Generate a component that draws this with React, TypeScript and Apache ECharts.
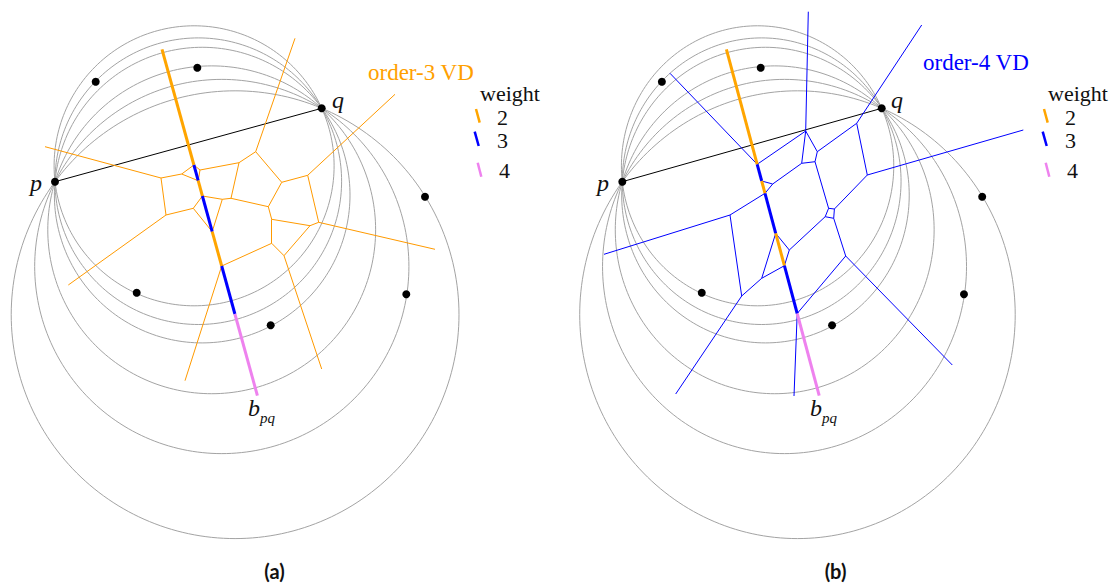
import React, { useEffect, useRef } from "react";
import * as echarts from "echarts";

// ---------- shared point set (panel (a) pixel frame; panel (b) is the same set, x-compressed) ----------
const siteP: number[] = [55, 181.7];
const siteQ: number[] = [321.7, 108.3];
const otherSites: number[][] = [
  [95.7, 81.7],
  [197.3, 67.7],
  [425, 196.7],
  [406.3, 294.3],
  [136.7, 292.7],
  [270.7, 325.3],
];
// centres of the circles through p and q (radius = distance to p)
const circleCenters: number[][] = [
  [194.1, 165.8],
  [198.3, 181.2],
  [202.2, 195.1],
  [211.7, 229.8],
  [221.8, 266.5],
  [235.1, 314.7],
];

// ---------- bisector b_pq, coloured by weight ----------
const weightColors: Record<number, string> = { 2: "#FFA500", 3: "#0000FF", 4: "#EE82EE" };
const bisectorA: number[][] = [
  [162.0, 49.3], [193.9, 165], [198.2, 180.7], [202.4, 196],
  [212.2, 231.7], [221.7, 266], [234.9, 314], [257.4, 395.7],
];
const bisectorAWeights: number[] = [2, 3, 2, 3, 2, 3, 4];
const bisectorB: number[][] = [
  [726.4, 49.3], [757.2, 164.3], [761.7, 181], [765.0, 193.3],
  [775.7, 233.3], [784.4, 265.7], [797.2, 313.5], [819.2, 395.7],
];
const bisectorBWeights: number[] = [2, 3, 2, 3, 2, 3, 4];

// ---------- order-3 Voronoi diagram (panel a) ----------
const vdAVertices: number[][] = [
  [255.7, 151.7], [239, 162.7], [200, 170], [181.7, 174], [161, 178],
  [193.9, 165], [198.2, 180.7], [281.7, 182.3], [307.7, 175.3], [231, 198.3],
  [222.3, 199.3], [202.4, 196], [193.3, 208.3], [166, 215], [212.2, 231.7],
  [268.3, 206.7], [271.7, 219.3], [318.7, 222.3], [310, 225.7], [271.7, 243.3],
  [284, 255.7], [221.7, 266], [295, 38.3], [395, 94.3], [45, 146.7],
  [68.3, 285], [435, 249.3], [321.7, 369], [185, 380.7],
];
const vdAEdges: number[][] = [
  [0, 1], [0, 7], [0, 22], [1, 2], [1, 9], [2, 5], [2, 6], [3, 4], [3, 5], [3, 6],
  [4, 13], [4, 24], [7, 8], [7, 15], [8, 23], [8, 17], [9, 10], [9, 15], [10, 11], [10, 14],
  [11, 12], [12, 13], [12, 14], [13, 25], [15, 16], [16, 18], [16, 19], [17, 18], [17, 26],
  [18, 20], [19, 20], [19, 21], [20, 27], [21, 28],
];

// ---------- order-4 Voronoi diagram (panel b, its own pixel frame) ----------
const vdBVertices: number[][] = [
  [757.2, 164.3], [805.7, 131], [817.3, 151.7], [815, 161.7], [801.7, 163.3],
  [856.7, 123.3], [867.3, 175], [761.7, 181], [772.7, 184], [765.0, 193.3],
  [730, 215], [775.7, 233.3], [789.3, 250], [784.4, 265.7], [761.7, 278.3],
  [741.7, 296], [797.2, 313.5], [845.7, 256], [828.6, 208.3], [834.4, 209],
  [833.7, 218.3], [825.2, 216.7], [670, 73.3], [808.3, 11.7], [921.7, 25],
  [1023.3, 130], [604, 254.3], [675.7, 394], [794, 396], [952.3, 365],
];
const vdBEdges: number[][] = [
  [0, 1], [0, 22], [1, 23], [1, 2], [1, 4], [2, 3], [2, 5], [3, 4], [3, 18], [4, 8],
  [5, 24], [5, 6], [6, 25], [6, 19], [7, 8], [8, 9], [9, 10], [10, 26], [10, 15],
  [11, 12], [11, 14], [12, 13], [12, 21], [13, 14], [14, 15], [15, 27], [16, 17], [16, 28],
  [17, 20], [17, 29], [18, 19], [19, 20], [20, 21], [21, 18],
];

const legendWeights: number[] = [2, 3, 4];

const SERIF = "Liberation Serif";

function buildOption() {
  const circleData = circleCenters.map((c) => [c[0], c[1], Math.hypot(c[0] - siteP[0], c[1] - siteP[1])]);
  const circleSeries = (gi: number) => ({
    type: "custom",
    xAxisIndex: gi,
    yAxisIndex: gi,
    silent: true,
    z: 1,
    data: circleData,
    renderItem: (_params: any, api: any) => {
      const cx = api.value(0);
      const cy = api.value(1);
      const r = api.value(2);
      const pts: number[][] = [];
      for (let k = 0; k <= 240; k++) {
        const a = (k / 240) * Math.PI * 2;
        pts.push(api.coord([cx + r * Math.cos(a), cy + r * Math.sin(a)]));
      }
      return {
        type: "polyline",
        shape: { points: pts },
        style: { stroke: "#a3a3a3", lineWidth: 1, fill: "none" },
      };
    },
  });
  const edgeSeries = (verts: number[][], edges: number[][], color: string, gi: number, z: number) => ({
    type: "lines",
    coordinateSystem: "cartesian2d",
    xAxisIndex: gi,
    yAxisIndex: gi,
    silent: true,
    z,
    color: [color],
    lineStyle: { color, width: 1, opacity: 1, curveness: 0 },
    data: edges.map(([i, j]) => ({
      coords: [verts[i], verts[j]],
      lineStyle: { color, width: 1, opacity: 1 },
    })),
  });
  const bisectorSeries = (pts: number[][], weights: number[]) => ({
    type: "lines",
    coordinateSystem: "cartesian2d",
    xAxisIndex: 0,
    yAxisIndex: 0,
    silent: true,
    z: 5,
    lineStyle: { width: 3, opacity: 1, cap: "butt" },
    data: weights.map((w, i) => ({
      coords: [pts[i], pts[i + 1]],
      lineStyle: { color: weightColors[w], width: 3, opacity: 1 },
    })),
  });
  const chordSeries = (gi: number) => ({
    type: "lines",
    coordinateSystem: "cartesian2d",
    xAxisIndex: gi,
    yAxisIndex: gi,
    silent: true,
    z: 3,
    lineStyle: { color: "#000", width: 1, opacity: 1 },
    data: [{ coords: [siteP, siteQ] }],
  });
  const dotSeries = (gi: number) => ({
    type: "scatter",
    xAxisIndex: gi,
    yAxisIndex: gi,
    silent: true,
    z: 6,
    symbol: "circle",
    symbolSize: 8,
    itemStyle: { color: "#000", opacity: 1 },
    data: [siteP, siteQ, ...otherSites],
  });

  const mathText = (text: string, x: number, y: number, size: number, align = "left") => ({
    type: "text",
    x,
    y,
    silent: true,
    style: {
      text,
      fill: "#111",
      fontFamily: SERIF,
      fontStyle: "italic",
      fontSize: size,
      align,
      verticalAlign: "middle",
    },
  });
  const plainText = (text: string, x: number, y: number, color: string, size = 22) => ({
    type: "text",
    x,
    y,
    silent: true,
    style: { text, fill: color, fontFamily: SERIF, fontSize: size, align: "left", verticalAlign: "middle" },
  });
  const tickOffsets: number[][] = [
    [476, 109, 479.7, 122.7],
    [474.7, 131.7, 478.7, 146],
    [477.7, 162.7, 481.3, 176.7],
  ];
  const labelY: number[] = [117, 140, 170];
  const labelX: number[] = [497, 497, 499];
  const legend = (dx: number) => {
    const els: any[] = [plainText("weight", 480 + dx, 93, "#111", 22)];
    legendWeights.forEach((w, i) => {
      const t = tickOffsets[i];
      els.push({
        type: "line",
        silent: true,
        shape: { x1: t[0] + dx, y1: t[1], x2: t[2] + dx, y2: t[3] },
        style: { stroke: weightColors[w], lineWidth: 2.5 },
      });
      els.push(plainText(String(w), labelX[i] + dx, labelY[i], "#111", 22));
    });
    return els;
  };

  const graphic: any[] = [
    plainText("order-3 VD", 368, 72, "#FFA000", 23),
    plainText("order-4 VD", 923, 62, "#0000FF", 23),
    ...legend(0),
    ...legend(568),
    mathText("p", 42, 183, 24, "right"),
    mathText("q", 332, 100, 24),
    mathText("p", 609, 183, 24, "right"),
    mathText("q", 891, 100, 24),
    mathText("b", 248, 408, 24),
    mathText("pq", 260, 418, 15),
    mathText("b", 810, 408, 24),
    mathText("pq", 822, 418, 15),
    {
      type: "text",
      x: 274.5,
      y: 571,
      silent: true,
      style: { text: "(a)", fill: "#111", fontFamily: "Lato", fontWeight: "bold", fontSize: 20, align: "center", verticalAlign: "middle" },
    },
    {
      type: "text",
      x: 835.5,
      y: 571,
      silent: true,
      style: { text: "(b)", fill: "#111", fontFamily: "Lato", fontWeight: "bold", fontSize: 20, align: "center", verticalAlign: "middle" },
    },
  ];

  const bScale = 0.9726;
  const bLeft = 622.3 - siteP[0] * bScale;
  const bMax = 480;

  return {
    animation: false,
    backgroundColor: "#ffffff",
    grid: [
      { left: 0, top: 0, width: 1117, height: 583, show: false },
      { left: bLeft, top: 0, width: bMax * bScale, height: 583, show: false },
    ],
    xAxis: [
      { gridIndex: 0, type: "value", min: 0, max: 1117, show: false },
      { gridIndex: 1, type: "value", min: 0, max: bMax, show: false },
    ],
    yAxis: [
      { gridIndex: 0, type: "value", min: 0, max: 583, inverse: true, show: false },
      { gridIndex: 1, type: "value", min: 0, max: 583, inverse: true, show: false },
    ],
    series: [
      circleSeries(0),
      circleSeries(1),
      chordSeries(0),
      chordSeries(1),
      edgeSeries(vdAVertices, vdAEdges, "#FF9A00", 0, 4),
      edgeSeries(vdBVertices, vdBEdges, "#0000FF", 0, 4),
      bisectorSeries(bisectorA, bisectorAWeights),
      bisectorSeries(bisectorB, bisectorBWeights),
      dotSeries(0),
      dotSeries(1),
    ],
    graphic,
  };
}

export default function App() {
  const ref = useRef<HTMLDivElement>(null);
  useEffect(() => {
    if (!ref.current) return;
    const chart = echarts.init(ref.current, null, { renderer: "svg" });
    chart.setOption(buildOption() as any);
    return () => chart.dispose();
  }, []);
  return (
    <div
      ref={ref}
      style={{ position: "fixed", left: 0, top: 0, width: 1117, height: 583, background: "#fff" }}
    />
  );
}
